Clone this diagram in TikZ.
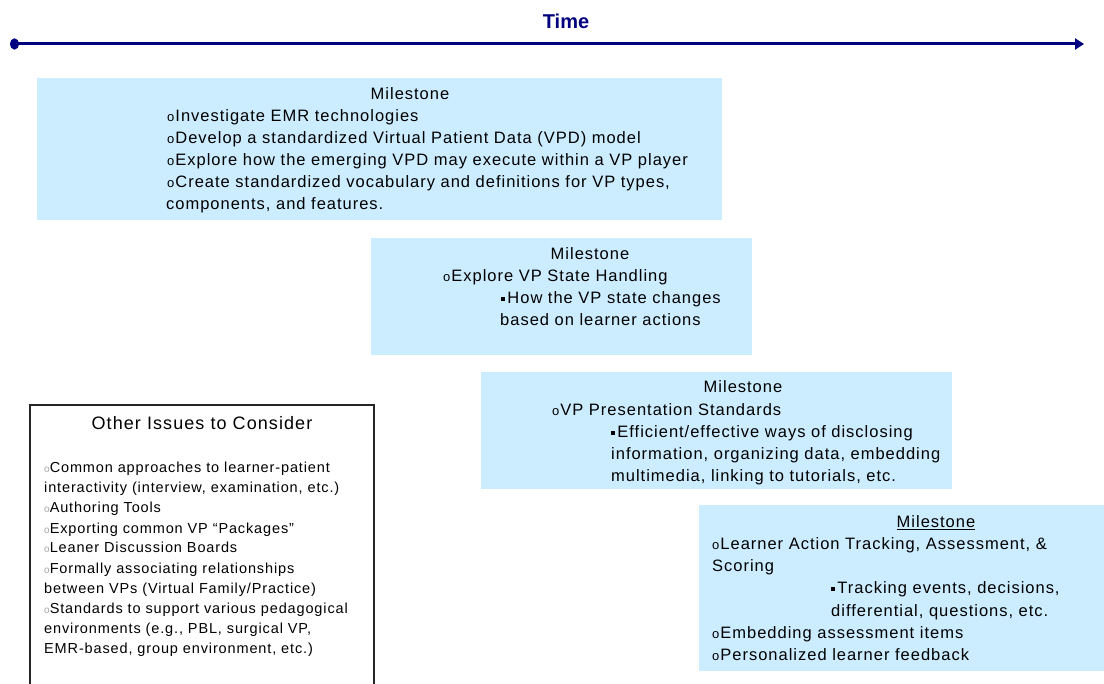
\documentclass[tikz,border=0pt]{standalone}
\usepackage{fontspec}
\setmainfont{Liberation Sans}
\newfontfamily\spc[LetterSpace=6]{Liberation Sans}
\usetikzlibrary{arrows.meta}
\definecolor{boxblue}{HTML}{CCECFF}
\definecolor{navy}{HTML}{000080}
\begin{document}
\begin{tikzpicture}[x=1pt,y=-1pt,
  mbox/.style={fill=boxblue, draw=none, inner sep=0pt, outer sep=0pt, anchor=north west},
  obox/.style={fill=white, draw=black!85, line width=1.5pt, inner sep=0pt, outer sep=0pt, anchor=north west},
  mt/.style={inner sep=0pt, anchor=base west, font=\spc\fontsize{16.5}{19}\selectfont},
  mtc/.style={inner sep=0pt, anchor=base, font=\spc\fontsize{16.5}{19}\selectfont},
  ot/.style={inner sep=0pt, anchor=base west, font=\spc\fontsize{14.5}{17}\selectfont},
  otc/.style={inner sep=0pt, anchor=base, font=\spc\fontsize{18}{20}\selectfont}]
\clip (0,0) rectangle (1104,684);
\fill[white] (0,0) rectangle (1104,684);
\newcommand{\ob}{{\fontsize{13}{13}\selectfont o}\kern1pt}
\newcommand{\sqb}{\raisebox{3pt}{\rule{3.5pt}{3.5pt}}\,}
\newcommand{\gb}{{\color{black!35}\fontsize{10}{10}\selectfont o}}
% Time
\node[inner sep=0pt, text=navy, font=\bfseries\fontsize{20}{22}\selectfont] (time) at (566,21) {Time};
\coordinate (tl) at (10,44);
\coordinate (tr) at (1084,44);
\draw[navy, line width=3pt, {Circle[length=9pt,width=11pt]}-{Triangle[length=9pt,width=11pt]}] (tl) -- (tr);
% Box 1
\node[mbox, minimum width=685pt, minimum height=142pt] (m1) at (37,78) {};
\node[mtc] (m1t) at (410,100) {Milestone};
\node[mt] (m1a) at (167,122) {\ob Investigate EMR technologies};
\node[mt] (m1b) at (167,144) {\ob Develop a standardized Virtual Patient Data (VPD) model};
\node[mt] (m1c) at (167,166) {\ob Explore how the emerging VPD may execute within a VP player};
\node[mt] (m1d) at (167,188) {\ob Create standardized vocabulary and definitions for VP types,};
\node[mt] (m1e) at (166,210) {components, and features.};
% Box 2
\node[mbox, minimum width=381pt, minimum height=117pt] (m2) at (371,238) {};
\node[mtc] (m2t) at (590,260) {Milestone};
\node[mt] (m2a) at (443,282) {\ob Explore VP State Handling};
\node[mt] (m2b) at (501,304) {\sqb How the VP state changes};
\node[mt] (m2c) at (500,326) {based on learner actions};
% Box 3
\node[mbox, minimum width=471pt, minimum height=117pt] (m3) at (481,372) {};
\node[mtc] (m3t) at (743,393) {Milestone};
\node[mt] (m3a) at (552,416) {\ob VP Presentation Standards};
\node[mt] (m3b) at (611,438) {\sqb Efficient/effective ways of disclosing};
\node[mt] (m3c) at (611,460) {information, organizing data, embedding};
\node[mt] (m3d) at (611,482) {multimedia, linking to tutorials, etc.};
% Box 4
\node[mbox, minimum width=405pt, minimum height=166pt] (m4) at (699,505) {};
\node[mtc] (m4t) at (936,528) {\underline{Milestone}};
\node[mt] (m4a) at (712,550) {\ob Learner Action Tracking, Assessment, \&};
\node[mt] (m4b) at (712,572) {Scoring};
\node[mt] (m4c) at (831,594) {\sqb Tracking events, decisions,};
\node[mt] (m4d) at (831,616) {differential, questions, etc.};
\node[mt] (m4e) at (712,638) {\ob Embedding assessment items};
\node[mt] (m4f) at (712,660) {\ob Personalized learner feedback};
% Other issues
\node[obox, minimum width=344pt, minimum height=300pt] (oi) at (30,405) {};
\node[otc] (oit) at (202,430) {Other Issues to Consider};
\node[ot] (o1) at (44,473) {\gb Common approaches to learner-patient};
\node[ot] (o2) at (44,493) {interactivity (interview, examination, etc.)};
\node[ot] (o3) at (44,513) {\gb Authoring Tools};
\node[ot] (o4) at (44,533) {\gb Exporting common VP “Packages”};
\node[ot] (o5) at (44,553) {\gb Leaner Discussion Boards};
\node[ot] (o6) at (44,573) {\gb Formally associating relationships};
\node[ot] (o7) at (44,593) {between VPs (Virtual Family/Practice)};
\node[ot] (o8) at (44,613) {\gb Standards to support various pedagogical};
\node[ot] (o9) at (44,633) {environments (e.g., PBL, surgical VP,};
\node[ot] (o10) at (44,653) {EMR-based, group environment, etc.)};
\end{tikzpicture}
\end{document}
